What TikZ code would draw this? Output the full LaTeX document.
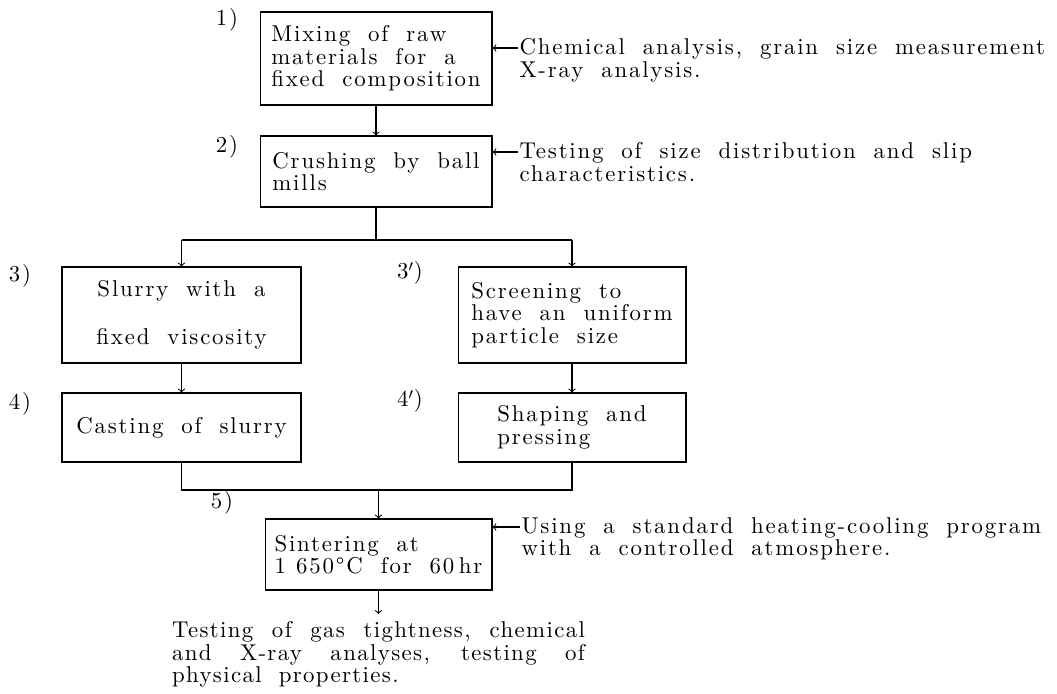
\documentclass[tikz,border=0pt]{standalone}
\usepackage{fontspec}
\setmainfont{lmroman10-regular.otf}[LetterSpace=8, WordSpace=1.9]
\usepackage{tikz}

\begin{document}
\begin{tikzpicture}[x = 0.02cm, y = -0.02cm, line width = .6pt,
    font = \fontsize{13}{12.8}\selectfont]
    \tikzstyle{stage} = [draw, inner sep = 0pt, align = left];
    \tikzstyle{note} = [anchor = north west, inner sep = 0pt, align = left];
    \tikzstyle{num} = [inner sep = 0pt];
    \useasboundingbox (0,0) rectangle (1057,693);
    % boxes:
    \node[stage, minimum width = 4.64cm, minimum height = 1.86cm] (b1) at (376,58.5)
        {Mixing of raw\\materials for a\\fixed composition};
    \node[stage, minimum width = 4.64cm, minimum height = 1.42cm] (b2) at (376,171.5)
        {Crushing by ball\\mills};
    \node[stage, align = center, minimum width = 4.78cm, minimum height = 1.92cm] (b3) at (181.5,315)
        {Slurry with a\\[0.5cm]fixed viscosity};
    \node[stage, minimum width = 4.56cm, minimum height = 1.92cm] (b3p) at (572,315)
        {Screening to\\have an uniform\\particle size};
    \node[stage, minimum width = 4.78cm, minimum height = 1.38cm] (b4) at (181.5,427.5)
        {Casting of slurry};
    \node[stage, minimum width = 4.56cm, minimum height = 1.38cm] (b4p) at (572,427.5)
        {Shaping and\\pressing};
    \node[stage, minimum width = 4.54cm, minimum height = 1.42cm] (b5) at (378.5,554.5)
        {Sintering at\\1\hspace{0.45em}650°C for 60\hspace{0.2em}hr};
    \node[anchor = north, text width = 8.26cm, align = justify, inner sep = 0pt] (result) at (378.5,621)
        {\addfontfeature{LetterSpace=6}Testing of gas tightness, chemical\linebreak and X-ray analyses, testing of\linebreak physical properties.};
    % step numbers:
    \node[num] (n1) at (227,20) {1)};
    \node[num] (n2) at (227,147) {2)};
    \node[num] (n3) at (20,276) {3)};
    \node[num] (n3p) at (410,273) {3$'$)};
    \node[num] (n4) at (20,404) {4)};
    \node[num] (n4p) at (410,401) {4$'$)};
    \node[num] (n5) at (222,503) {5)};
    % side notes:
    \node[note] (t1) at (519,38) {Chemical analysis, grain size measurement\\X-ray analysis.};
    \node[note] (t2) at (519,142) {Testing of size distribution and slip\\characteristics.};
    \node[note] (t3) at (521,517) {Using a standard heating-cooling program\\with a controlled atmosphere.};
    \coordinate (c1) at (518,48);
    \coordinate (c2) at (518,152);
    \coordinate (c3) at (520,527);
    \draw[->] (c1) -- (c1 -| b1.east);
    \draw[->] (c2) -- (c2 -| b2.east);
    \draw[->] (c3) -- (c3 -| b5.east);
    % flow:
    \coordinate (split) at (376,240);
    \coordinate (merge) at (378.5,490);
    \draw[->] (b1) -- (b2);
    \draw (b2) -- (split);
    \draw (split -| b3) -- (split -| b3p);
    \draw[->] (split -| b3) -- (b3);
    \draw[->] (split -| b3p) -- (b3p);
    \draw[->] (b3) -- (b4);
    \draw[->] (b3p) -- (b4p);
    \draw (b4) -- (merge -| b4) -- (merge -| b4p) -- (b4p);
    \draw[->] (merge) -- (b5);
    \draw[->, shorten > = 0.14cm] (b5) -- (result);
  \end{tikzpicture}
\end{document}
